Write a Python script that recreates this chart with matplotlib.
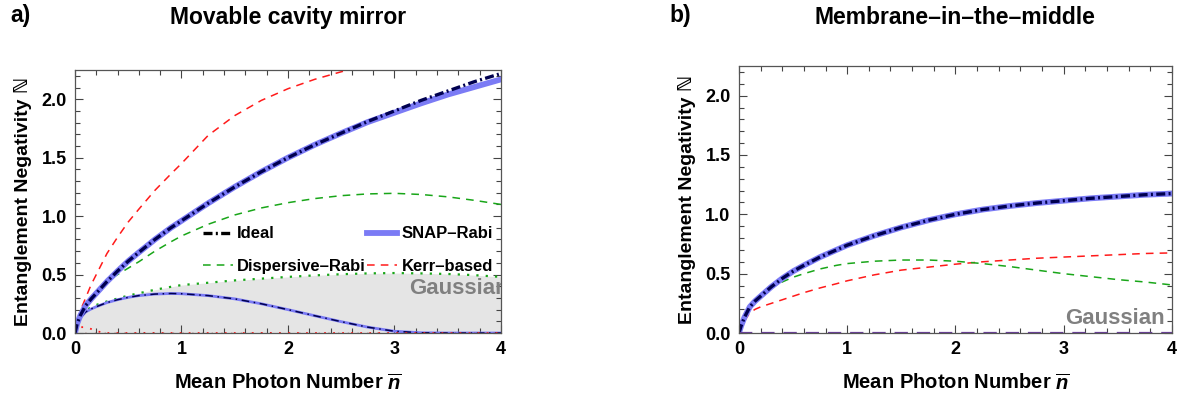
import matplotlib
matplotlib.use('Agg')
import matplotlib.pyplot as plt
from matplotlib.ticker import MultipleLocator, FormatStrFormatter

plt.rcParams['font.family'] = ['Liberation Sans', 'DejaVu Sans']
plt.rcParams['font.weight'] = 'bold'
plt.rcParams['axes.labelweight'] = 'bold'
plt.rcParams['mathtext.fontset'] = 'custom'
plt.rcParams['mathtext.it'] = 'Liberation Sans:bold:italic'
plt.rcParams['mathtext.rm'] = 'Liberation Sans:bold'

# ---- panel a: movable cavity mirror ----
xa = [0, 0.02, 0.05, 0.1, 0.15, 0.2, 0.3, 0.4, 0.5, 0.6, 0.75, 0.9, 1.0,
      1.25, 1.5, 1.75, 2.0, 2.25, 2.5, 2.75, 3.0, 3.25, 3.5, 3.75, 4.0]
ideal_a = [0, 0.08, 0.15, 0.235, 0.29, 0.34, 0.44, 0.53, 0.615, 0.69, 0.80, 0.90, 0.96,
           1.11, 1.25, 1.38, 1.50, 1.61, 1.71, 1.81, 1.90, 1.99, 2.07, 2.15, 2.22]
snap_a = [0, 0.08, 0.15, 0.235, 0.29, 0.34, 0.44, 0.53, 0.615, 0.69, 0.80, 0.90, 0.96,
          1.11, 1.25, 1.38, 1.50, 1.61, 1.71, 1.805, 1.885, 1.965, 2.04, 2.105, 2.17]
disp_a = [0, 0.08, 0.15, 0.235, 0.29, 0.34, 0.44, 0.50, 0.555, 0.61, 0.70, 0.78, 0.83,
          0.93, 1.01, 1.07, 1.115, 1.15, 1.175, 1.19, 1.195, 1.185, 1.165, 1.135, 1.10]
kerr_a = [0, 0.10, 0.19, 0.30, 0.41, 0.50, 0.68, 0.82, 0.95, 1.06, 1.22, 1.36, 1.45,
          1.69, 1.86, 1.99, 2.09, 2.17, 2.235, 2.29, 2.34, 2.38, 2.42, 2.45, 2.48]
gauss_a = [0, 0.06, 0.13, 0.19, 0.22, 0.24, 0.27, 0.295, 0.32, 0.34, 0.37, 0.395, 0.41,
           0.43, 0.45, 0.465, 0.48, 0.493, 0.503, 0.51, 0.513, 0.51, 0.505, 0.495, 0.48]
low_a = [0, 0.07, 0.13, 0.18, 0.205, 0.225, 0.26, 0.285, 0.305, 0.32, 0.333, 0.338, 0.336,
         0.32, 0.292, 0.25, 0.20, 0.148, 0.097, 0.05, 0.015, 0.002, 0, 0, 0]
kerr_low_a = [0, 0.03, 0.05, 0.05, 0.035, 0.015, 0, 0, 0, 0, 0, 0, 0,
              0, 0, 0, 0, 0, 0, 0, 0, 0, 0, 0, 0]

# ---- panel b: membrane-in-the-middle ----
xb = [0, 0.02, 0.05, 0.1, 0.15, 0.2, 0.3, 0.4, 0.5, 0.6, 0.75, 0.9, 1.0,
      1.25, 1.5, 1.75, 2.0, 2.25, 2.5, 2.75, 3.0, 3.25, 3.5, 3.75, 4.0]
ideal_b = [0, 0.06, 0.13, 0.22, 0.27, 0.31, 0.39, 0.46, 0.52, 0.57, 0.64, 0.70, 0.74,
           0.82, 0.89, 0.95, 1.00, 1.04, 1.07, 1.095, 1.115, 1.135, 1.15, 1.165, 1.175]
disp_b = [0, 0.06, 0.13, 0.22, 0.27, 0.31, 0.38, 0.43, 0.47, 0.50, 0.54, 0.57, 0.585,
          0.605, 0.615, 0.615, 0.605, 0.585, 0.56, 0.53, 0.50, 0.475, 0.45, 0.43, 0.405]
kerr_b = [0, 0.05, 0.10, 0.17, 0.20, 0.22, 0.25, 0.28, 0.31, 0.34, 0.38, 0.415, 0.44,
          0.49, 0.53, 0.555, 0.58, 0.60, 0.615, 0.63, 0.64, 0.65, 0.66, 0.67, 0.675]
gauss_b = [0] * len(xb)

navy = '#000050'
blue = '#7b7bf5'
green = '#19a619'
red = '#ff1a1a'
dashdot = (0, (2.7, 1.0, 0.6, 1.0))
dashed = (0, (5, 4))


def style_axes(ax):
    ax.set_xlim(0, 4)
    ax.set_ylim(0, 2.25)
    ax.xaxis.set_major_locator(MultipleLocator(1))
    ax.xaxis.set_minor_locator(MultipleLocator(0.2))
    ax.yaxis.set_major_locator(MultipleLocator(0.5))
    ax.yaxis.set_minor_locator(MultipleLocator(0.1))
    ax.xaxis.set_major_formatter(FormatStrFormatter('%d'))
    ax.yaxis.set_major_formatter(FormatStrFormatter('%.1f'))
    ax.tick_params(which='both', direction='in', top=True, right=True,
                   labelsize=13, width=0.8, color='#444444')
    ax.tick_params(which='major', length=6, pad=6)
    ax.tick_params(which='minor', length=3.5)
    for s in ax.spines.values():
        s.set_color('#555555')
        s.set_linewidth(0.9)
    plt.setp(ax.get_xticklabels() + ax.get_yticklabels(), fontweight='bold')
    ax.set_xlabel(r'Mean Photon Number $\overline{n}$', fontsize=14.5,
                  fontweight='bold', labelpad=11)
    ax.set_ylabel('Entanglement Negativity ℕ', fontsize=14,
                  fontweight='bold', labelpad=7)


fig = plt.figure(figsize=(11.81, 3.98), dpi=100)
ax1 = fig.add_axes([0.0635, 0.1633, 0.3607, 0.6608])
ax2 = fig.add_axes([0.6257, 0.1633, 0.3666, 0.6709])

# panel a
ax1.fill_between(xa, 0, gauss_a, color='#e5e5e5', lw=0)
ax1.plot(xa, gauss_a, color=green, ls=(0, (1, 3.2)), lw=1.6)
ax1.plot(xa, kerr_a, color=red, ls=dashed, lw=1.1)
ax1.plot(xa, disp_a, color=green, ls=dashed, lw=1.1)
ax1.plot(xa, low_a, color=blue, lw=2)
ax1.plot(xa, low_a, color=navy, ls=(0, (5, 3, 1, 3)), lw=1.1)
ax1.plot(xa, kerr_low_a, color=red, ls=(0, (1, 4)), lw=1.3)
ax1.plot(xa, [0] * len(xa), color='#800000', ls=(0, (1, 6)), lw=1.0)
l_snap, = ax1.plot(xa, snap_a, color=blue, lw=4.2, label='SNAP–Rabi')
ax1.plot(xa, ideal_a, color=navy, ls=dashdot, lw=2.4)

h_ideal, = ax1.plot([], [], color='black', ls=dashdot, lw=2.4, label='Ideal')
h_disp, = ax1.plot([], [], color=green, ls=dashed, lw=1.1, label='Dispersive–Rabi')
h_kerr, = ax1.plot([], [], color=red, ls=dashed, lw=1.1, label='Kerr–based')
ax1.legend(handles=[h_ideal, h_disp, l_snap, h_kerr], ncol=2, loc='upper left',
           bbox_to_anchor=(0.30, 0.405), frameon=False,
           prop={'size': 12, 'weight': 'bold'},
           handlelength=1.8, handletextpad=0.25, columnspacing=0.1,
           labelspacing=1.05, borderaxespad=0, borderpad=0)
ax1.text(4.07, 0.385, 'Gaussian', color='#808080', fontsize=16,
         fontweight='bold', ha='right', va='center', clip_on=True)
style_axes(ax1)

# panel b
ax2.plot(xb, kerr_b, color=red, ls=dashed, lw=1.1)
ax2.plot(xb, disp_b, color=green, ls=dashed, lw=1.1)
ax2.plot(xb, ideal_b, color=blue, lw=4.2)
ax2.plot(xb, ideal_b, color=navy, ls=dashdot, lw=2.4)
ax2.plot(xb, gauss_b, color='#6a3d9a', ls=(0, (6, 4)), lw=1.6)
ax2.text(3.93, 0.125, 'Gaussian', color='#808080', fontsize=16,
         fontweight='bold', ha='right', va='center')
style_axes(ax2)

fig.text(0.244, 0.955, 'Movable cavity mirror', fontsize=16.5,
         fontweight='bold', ha='center', va='center')
fig.text(0.8088, 0.955, 'Membrane–in–the–middle', fontsize=16.5,
         fontweight='bold', ha='center', va='center')
fig.text(0.009, 0.96, 'a)', fontsize=16.5, fontweight='bold', ha='left', va='center')
fig.text(0.567, 0.96, 'b)', fontsize=16.5, fontweight='bold', ha='left', va='center')

fig.savefig('out.png', dpi=100)
